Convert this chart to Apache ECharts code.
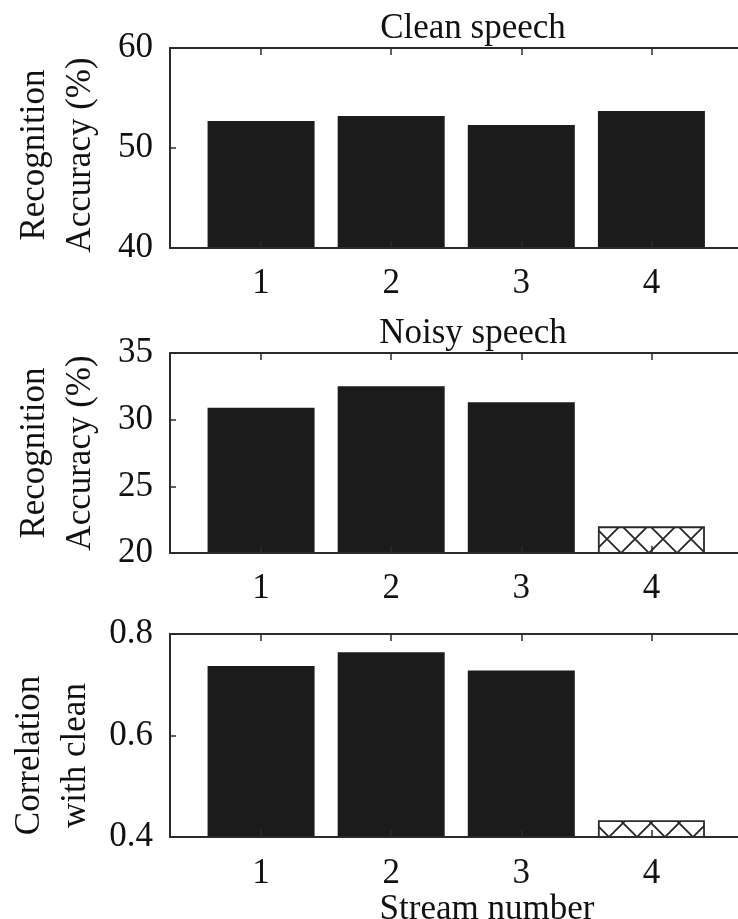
<!DOCTYPE html>
<html>
<head>
<meta charset="utf-8">
<script src="https://cdn.jsdelivr.net/npm/echarts@6/dist/echarts.min.js"></script>
<style>
  html, body { margin: 0; padding: 0; background: #ffffff; }
  #chart { width: 738px; height: 919px; }
</style>
</head>
<body>
<div id="chart"></div>
<script>
// Stream numbers along the horizontal axis of every panel
const streams = [1, 2, 3, 4];
const streamLabels = ['1', '2', '3', '4'];

// Recognition accuracy (%) per stream
const cleanAccuracy = [52.7, 53.2, 52.3, 53.7];
const noisyAccuracy = [30.9, 32.5, 31.3, 22.0];

// Correlation of each noisy stream with the clean one
const correlationWithClean = [0.737, 0.764, 0.728, 0.433];

// Vertical tick labels of the three panels
const cleanTicks = [40, 50, 60];
const noisyTicks = [20, 25, 30, 35];
const correlationTicks = [0.4, 0.6, 0.8];

const FONT = '"Liberation Serif", "DejaVu Serif", serif';
const INK = '#111111';
const FRAME = '#2b2b2b';
const BAR = '#1b1b1b';

// Cross-hatch tile used for the stream that is drawn open
function hatchTile(size) {
  const c = document.createElement('canvas');
  c.width = size; c.height = size;
  const g = c.getContext('2d');
  g.fillStyle = '#ffffff';
  g.fillRect(0, 0, size, size);
  g.strokeStyle = '#262626';
  g.lineWidth = 1.8;
  g.beginPath();
  g.moveTo(0, 0); g.lineTo(size, size);
  g.moveTo(size, 0); g.lineTo(0, size);
  g.stroke();
  return c;
}
const TILE = 28;
const tile = hatchTile(TILE);

const panels = [
  { title: 'Clean speech', values: cleanAccuracy, ticks: cleanTicks, digits: 0,
    name: 'Recognition\nAccuracy (%)', grid: { top: 48, height: 200 }, namePad: [0, 14, 0, 0],
    hatched: null, hatchOffset: [0, 0] },
  { title: 'Noisy speech', values: noisyAccuracy, ticks: noisyTicks, digits: 0,
    name: 'Recognition\nAccuracy (%)', grid: { top: 353, height: 200 }, namePad: [0, 0, 0, 0],
    hatched: 4, hatchOffset: [5, 21] },
  { title: '', values: correlationWithClean, ticks: correlationTicks, digits: 1,
    name: 'Correlation\nwith clean', grid: { top: 634, height: 203 }, namePad: [0, 40, 0, 0],
    hatched: 4, hatchOffset: [7, 11] }
];

const X_MIN = 0.3, X_MAX = 4.85;
const lineStyle = { color: FRAME, width: 2 };
const tickStyle = { color: FRAME, width: 1.5 };

const grid = [], xAxis = [], yAxis = [], series = [], title = [];

panels.forEach((p, i) => {
  grid.push({
    left: 170, width: 592, top: p.grid.top, height: p.grid.height,
    containLabel: false, outerBoundsMode: 'none'
  });

  // bottom axis with stream labels
  xAxis.push({
    type: 'value', gridIndex: i, position: 'bottom', min: X_MIN, max: X_MAX, z: 5,
    axisLine: { show: true, onZero: false, lineStyle },
    axisTick: { show: true, inside: true, length: 7, customValues: streams, lineStyle: tickStyle },
    axisLabel: {
      show: true, customValues: streams, margin: i === 2 ? 19 : 18,
      formatter: v => streamLabels[streams.indexOf(v)],
      fontFamily: FONT, fontSize: 35, color: INK
    },
    splitLine: { show: false },
    name: i === 2 ? 'Stream number' : '',
    nameLocation: 'middle', nameGap: 49,
    nameTextStyle: { fontFamily: FONT, fontSize: 35, color: INK, padding: [0, 0, 0, 42] }
  });
  // mirrored top axis with inward ticks
  xAxis.push({
    type: 'value', gridIndex: i, position: 'top', min: X_MIN, max: X_MAX, z: 5,
    axisLine: { show: true, onZero: false, lineStyle },
    axisTick: { show: true, inside: true, length: 7, customValues: streams, lineStyle: tickStyle },
    axisLabel: { show: false },
    splitLine: { show: false }
  });

  const t = p.ticks;
  const step = +(t[1] - t[0]).toFixed(6);
  yAxis.push({
    type: 'value', gridIndex: i, min: t[0], max: t[t.length - 1], interval: step, z: 5,
    axisLine: { show: true, onZero: false, lineStyle },
    axisTick: { show: true, inside: true, length: 6, lineStyle: tickStyle },
    axisLabel: {
      margin: 17, fontFamily: FONT, fontSize: 35, color: INK,
      formatter: v => v.toFixed(p.digits)
    },
    splitLine: { show: false },
    name: p.name, nameLocation: 'middle', nameRotate: 90, nameGap: 66,
    nameTextStyle: { fontFamily: FONT, fontSize: 35, lineHeight: 46, color: INK, padding: p.namePad }
  });

  series.push({
    type: 'bar', xAxisIndex: i * 2, yAxisIndex: i, barWidth: 107, z: 2,
    itemStyle: { color: BAR },
    data: streams.map((s, k) => {
      const item = { value: [s, p.values[k]] };
      if (p.hatched === s) {
        item.itemStyle = {
          color: { image: tile, repeat: 'repeat', x: p.hatchOffset[0], y: p.hatchOffset[1] },
          borderColor: FRAME, borderWidth: 1.8
        };
      }
      return item;
    })
  });

  if (p.title) {
    title.push({
      text: p.title, left: 468, top: p.grid.top - 42, textAlign: 'center',
      textStyle: { fontFamily: FONT, fontSize: 35, fontWeight: 'normal', color: INK }
    });
  }
});

const chart = echarts.init(document.getElementById('chart'), null, { renderer: 'canvas' });
chart.setOption({
  animation: false,
  backgroundColor: '#ffffff',
  title, grid, xAxis, yAxis, series
});
</script>
</body>
</html>
